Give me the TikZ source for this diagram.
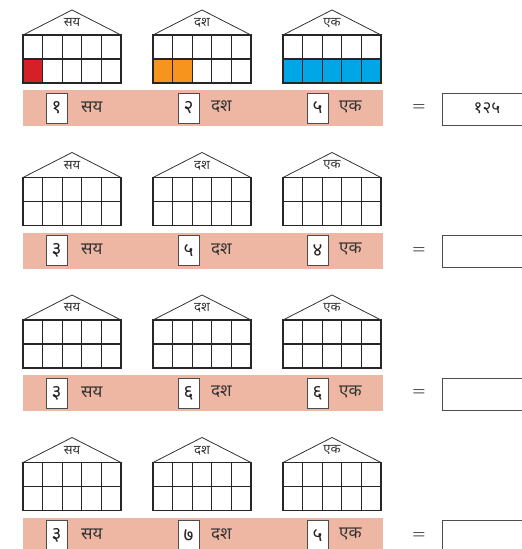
\documentclass[tikz,border=0pt]{standalone}
\usepackage{fontspec}
\newfontfamily\deva[Script=Devanagari]{Noto Sans}
\usepackage{tikz}

\definecolor{bandpink}{RGB}{238,183,163}
\definecolor{hundred}{RGB}{214,32,40}
\definecolor{ten}{RGB}{247,148,29}
\definecolor{one}{RGB}{0,166,230}
\tikzset{
  wall/.style={draw=black!85, line width=1.1pt},
  numbox/.style={draw=black!70, fill=white, line width=0.8pt, minimum width=21pt, minimum height=30pt, inner sep=0pt, font=\deva\fontsize{19}{19}\selectfont, text=black!85},
  word/.style={anchor=west, inner sep=0pt, font=\deva\fontsize{17}{17}\selectfont, text=black!80},
  roof label/.style={inner sep=0pt, font=\deva\fontsize{13}{13}\selectfont, text=black!80}
}

\begin{document}
\begin{tikzpicture}[x=1pt, y=-1pt]
\useasboundingbox (0,0) rectangle (522,549);
\clip (0,0) rectangle (522,549);
% coloured cells of the first row
\fill[hundred] (23,59) rectangle ++(19.6,24);
\fill[ten] (153,59) rectangle ++(39.2,24);
\fill[one] (283,59) rectangle ++(98,24);
\foreach \r/\a/\b/\c/\ans in {0/१/२/५/१२५, 1/३/५/४/, 2/३/६/६/, 3/३/७/५/} {
  \pgfmathsetmacro{\gy}{35+142.5*\r}
  \pgfmathsetmacro{\by}{90+142.5*\r}
  % houses
  \foreach \k/\lab in {0/सय, 1/दश, 2/एक} {
    \pgfmathsetmacro{\gx}{23+130*\k}
    \draw[wall] (\gx,\gy) rectangle ++(98,48);
    \draw[wall] (\gx,\gy+24) -- ++(98,0);
    \foreach \i in {1,...,4} \draw[wall] (\gx+19.6*\i,\gy) -- ++(0,48);
    \draw[black!80, line width=0.8pt] (\gx,\gy) -- (\gx+49,\gy-25) -- (\gx+98,\gy);
    \node[roof label] (roof-\r-\k) at (\gx+49,\gy-12) {\lab};
  }
  % place value band
  \fill[bandpink] (23,\by) rectangle (383,\by+36);
  \node[numbox] (num-\r-0) at (56.5,\by+18) {\a};
  \node[word] (word-\r-0) at (81,\by+17) {सय};
  \node[numbox] (num-\r-1) at (188.5,\by+18) {\b};
  \node[word] (word-\r-1) at (211,\by+17) {दश};
  \node[numbox] (num-\r-2) at (317.5,\by+18) {\c};
  \node[word] (word-\r-2) at (339,\by+17) {एक};
  \node[inner sep=0pt, font=\bfseries\fontsize{15}{15}\selectfont, text=black!85] (eq-\r) at (419,\by+18) {=};
  \draw[draw=black!70, line width=0.8pt] (442,\by+3) rectangle (540,\by+35);
  \node[numbox, draw=none, fill=none, font=\deva\fontsize{17}{17}\selectfont] (ans-\r) at (487,\by+18) {\ans};
}
\end{tikzpicture}
\end{document}
